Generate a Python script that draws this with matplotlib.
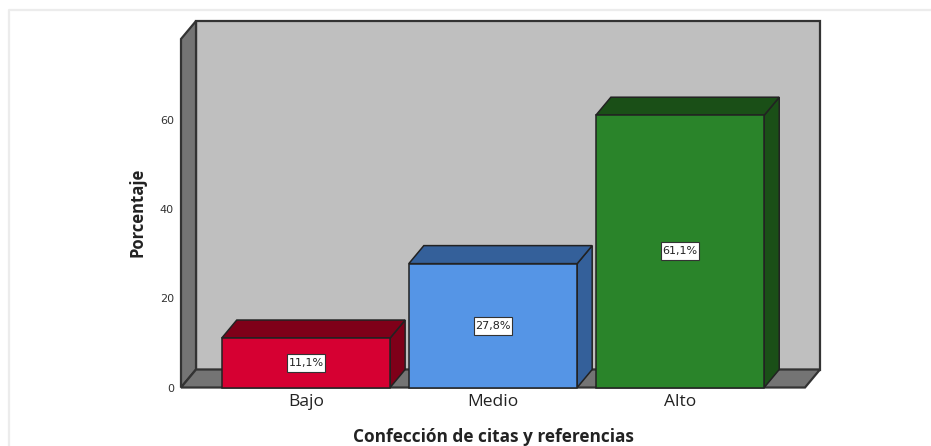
import matplotlib
matplotlib.use('Agg')
from matplotlib import pyplot as plt
from matplotlib.lines import Line2D
from matplotlib.patches import Polygon, Rectangle

categories = ['Bajo', 'Medio', 'Alto']
percentages = [11.1, 27.8, 61.1]
value_labels = ['11,1%', '27,8%', '61,1%']
y_ticks = [0, 20, 40, 60]
front_colors = ['#d60032', '#5595e6', '#2a842a']
top_colors = ['#7f0019', '#34609a', '#1a4f17']
side_colors = ['#7f0019', '#34609a', '#1a4f17']

W, H = 931, 446
plt.rcParams['font.family'] = ['Open Sans', 'DejaVu Sans']
fig = plt.figure(figsize=(W / 100, H / 100), dpi=100)

# light frame of the screenshot, left and top only
fig.add_artist(Line2D([8.5 / W, 8.5 / W, 1], [0, 1 - 9.5 / H, 1 - 9.5 / H], color='#ececec', linewidth=1.6))

# axes = front plane of the fake 3D box
left, right, bottom, top = 181, 805, 387.5, 39
ax = fig.add_axes([left / W, 1 - bottom / H, (right - left) / W, (bottom - top) / H])
ax.set_xlim(-0.668, 2.668)
ax.set_ylim(0, 78.2)
ax.patch.set_visible(False)
for s in ax.spines.values():
    s.set_visible(False)

dx = 15 / 187
dy = 18 / 4.458
x0, x1 = ax.get_xlim()
y0, y1 = ax.get_ylim()
edge = '#222222'
wall = dict(edgecolor='#333333', linewidth=1.6, clip_on=False, joinstyle='miter')

# walls
ax.add_patch(Rectangle((x0 + dx, y0 + dy), x1 - x0, y1 - y0, facecolor='#bfbfbf', **wall))
ax.add_patch(Polygon([(x0, y0), (x0 + dx, y0 + dy), (x0 + dx, y1 + dy), (x0, y1)], facecolor='#747474', **wall))
ax.add_patch(Polygon([(x0, y0), (x1, y0), (x1 + dx, y0 + dy), (x0 + dx, y0 + dy)], facecolor='#747474', **wall))

# bars
w = 0.9
box_w = 38 / 187
box_h = 18 / 4.458
for i, v in enumerate(percentages):
    l, r = i - w / 2, i + w / 2
    style = dict(edgecolor=edge, linewidth=1.1, clip_on=False, joinstyle='miter')
    ax.add_patch(Polygon([(r, 0), (r + dx, dy), (r + dx, v + dy), (r, v)], facecolor=side_colors[i], **style))
    ax.add_patch(Polygon([(l, v), (r, v), (r + dx, v + dy), (l + dx, v + dy)], facecolor=top_colors[i], **style))
    ax.add_patch(Rectangle((l, 0), w, v, facecolor=front_colors[i], **style))
    ax.add_patch(Rectangle((i - box_w / 2, v / 2 - box_h / 2), box_w, box_h, facecolor='white',
                           edgecolor='#333333', linewidth=0.8))
    ax.text(i, v / 2, value_labels[i], ha='center', va='center', fontsize=8, color='#222222',
            family='DejaVu Sans')

ax.set_xticks(range(3))
ax.set_xticklabels(categories, fontsize=12.5, color='#222222')
ax.set_yticks(y_ticks)
ax.set_yticklabels([str(t) for t in y_ticks], fontsize=8, color='#333333', family='DejaVu Sans')
ax.tick_params(axis='both', length=0)
ax.tick_params(axis='x', pad=5)
ax.tick_params(axis='y', pad=5)

fig.text(493 / W, 1 - 437 / H, 'Confección de citas y referencias', ha='center', va='center',
         fontsize=12.4, fontweight='bold', color='#222222')
fig.text(137 / W, 1 - 212 / H, 'Porcentaje', ha='center', va='center', rotation=90,
         fontsize=12, fontweight='bold', color='#222222')

fig.savefig('out.png', dpi=100)
